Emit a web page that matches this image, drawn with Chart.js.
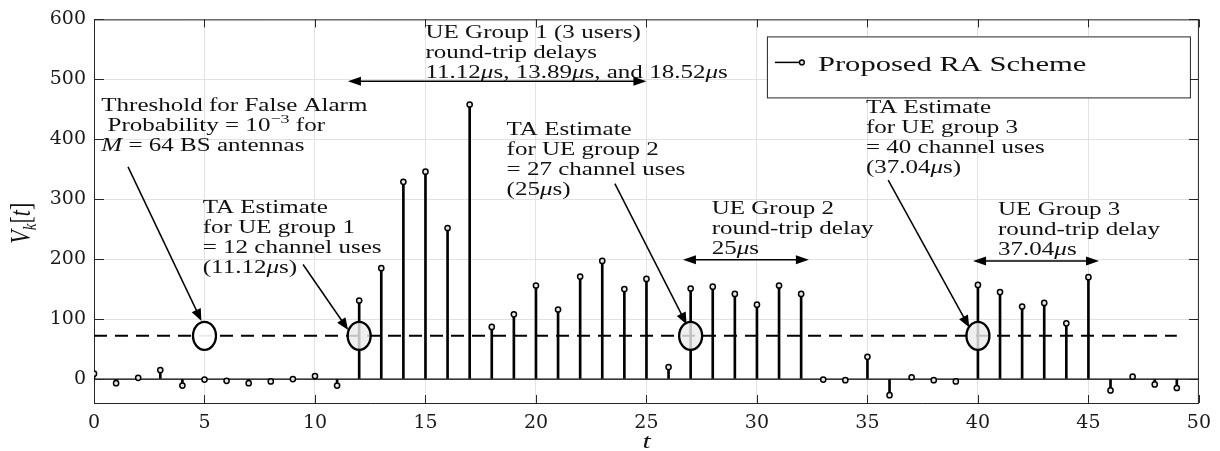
<!DOCTYPE html>
<html>
<head>
<meta charset="utf-8">
<script src="https://cdn.jsdelivr.net/npm/chart.js@4.4.1/dist/chart.umd.min.js"></script>
<style>
  html, body { margin: 0; padding: 0; background: #ffffff; }
  #wrap { width: 1220px; height: 451px; }
</style>
</head>
<body>
<div id="wrap"><canvas id="c" width="1220" height="451"></canvas></div>
<script>
// ---- data -------------------------------------------------------------
const timeIndex = [0, 1, 2, 3, 4, 5, 6, 7, 8, 9, 10, 11, 12, 13, 14, 15, 16, 17, 18, 19,
                   20, 21, 22, 23, 24, 25, 26, 27, 28, 29, 30, 31, 32, 33, 34, 35, 36, 37, 38, 39,
                   40, 41, 42, 43, 44, 45, 46, 47, 48, 49];
const vk = [9, -7, 2, 15, -11, -1, -3, -7, -4, 0, 5, -11,
            131, 185, 329, 346, 252, 458, 87, 108, 156, 116, 171, 197, 150, 167,
            20, 151, 154, 142, 124, 156, 142, -1, -2, 37, -27, 3, -2, -4,
            157, 145, 121, 127, 93, 170, -19, 4, -9, -15];
const thresholdLevel = 72;
const thresholdSpan = [0, 49];
const circledIndices = [5, 12, 27, 40];
const xTickLabels = ['0', '5', '10', '15', '20', '25', '30', '35', '40', '45', '50'];
const yTickLabels = ['0', '100', '200', '300', '400', '500', '600'];
const seriesName = 'Proposed RA Scheme';

// ---- annotations (anchored in data coordinates) ----------------------
// markup: *italic*, ^superscript^, _subscript_
const notes = [
  { t: 0.33, v: 448, lines: ['Threshold for False Alarm', ' Probability = 10^\u22123^ for', '*M* = 64 BS antennas'] },
  { t: 4.92, v: 277, lines: ['TA Estimate', 'for UE group 1', '= 12 channel uses', '(11.12*\u03bc*s)'] },
  { t: 15.0, v: 569, lines: ['UE Group 1 (3 users)', 'round-trip delays', '11.12*\u03bc*s, 13.89*\u03bc*s, and 18.52*\u03bc*s'] },
  { t: 18.67, v: 407, lines: ['TA Estimate', 'for UE group 2', '= 27 channel uses', '(25*\u03bc*s)'] },
  { t: 27.95, v: 276, lines: ['UE Group 2', 'round-trip delay', '25*\u03bc*s'] },
  { t: 34.93, v: 444, lines: ['TA Estimate', 'for UE group 3', '= 40 channel uses', '(37.04*\u03bc*s)'] },
  { t: 40.91, v: 273, lines: ['UE Group 3', 'round-trip delay', '37.04*\u03bc*s'] }
];
const pointers = [
  { from: [1.54, 354], to: [4.86, 97] },
  { from: [9.46, 191], to: [11.5, 82] },
  { from: [23.57, 326], to: [26.82, 91] },
  { from: [35.94, 332], to: [39.61, 86] }
];
const spans = [
  { v: 497, t0: 11.49, t1: 25.0 },
  { v: 199, t0: 26.65, t1: 32.35 },
  { v: 197, t0: 39.78, t1: 45.48 }
];

// ---- styling ----------------------------------------------------------
const SERIF = "'Liberation Serif', 'Times New Roman', serif";
const STRETCH = 1.39;          // wide-set lettering
const NOTE_SIZE = 18;
const LINE_GAP = 20;
const AXIS_INK = '#262626';

function parseRich(str) {
  const segs = [];
  let mode = 'n', buf = '';
  for (const ch of str) {
    if (ch === '*' || ch === '^' || ch === '_') {
      const m = ch === '*' ? 'i' : (ch === '^' ? 's' : 'b');
      if (buf) segs.push([buf, mode]);
      buf = '';
      mode = (mode === m) ? 'n' : m;
    } else buf += ch;
  }
  if (buf) segs.push([buf, mode]);
  return segs;
}
function fontFor(style, size) {
  if (style === 'i') return `italic ${size}px ${SERIF}`;
  if (style === 's') return `${Math.round(size * 0.7)}px ${SERIF}`;
  if (style === 'b') return `italic ${Math.round(size * 0.7)}px ${SERIF}`;
  return `${size}px ${SERIF}`;
}
function richWidth(ctx, str, size) {
  let w = 0;
  for (const [t, s] of parseRich(str)) { ctx.font = fontFor(s, size); w += ctx.measureText(t).width; }
  return w;
}
function drawRich(ctx, str, size, x0) {
  let x = x0 || 0;
  for (const [t, s] of parseRich(str)) {
    ctx.font = fontFor(s, size);
    const dy = s === 's' ? -size * 0.42 : (s === 'b' ? size * 0.22 : 0);
    ctx.fillText(t, x, dy);
    x += ctx.measureText(t).width;
  }
  return x;
}
function arrowHead(ctx, x0, y0, x1, y1, len, half) {
  const a = Math.atan2(y1 - y0, x1 - x0);
  ctx.beginPath();
  ctx.moveTo(x1, y1);
  ctx.lineTo(x1 - len * Math.cos(a) + half * Math.sin(a), y1 - len * Math.sin(a) - half * Math.cos(a));
  ctx.lineTo(x1 - len * Math.cos(a) - half * Math.sin(a), y1 - len * Math.sin(a) + half * Math.cos(a));
  ctx.closePath();
  ctx.fill();
}

const overlay = {
  id: 'overlay',
  afterDatasetsDraw(chart) {
    const { ctx, scales: { x, y }, chartArea: a } = chart;
    ctx.save();
    // circled crossings of the threshold
    circledIndices.forEach((t, k) => {
      const cx = x.getPixelForValue(t), cy = y.getPixelForValue(thresholdLevel);
      ctx.beginPath();
      ctx.ellipse(cx, cy, 11.5, 14, 0, 0, Math.PI * 2);
      ctx.fillStyle = k === 0 ? 'rgba(255,255,255,0.92)' : 'rgba(236,236,236,0.82)';
      ctx.fill();
      ctx.lineWidth = 2.3;
      ctx.strokeStyle = '#000';
      ctx.stroke();
    });
    // frame (top / right) and inward tick marks
    ctx.strokeStyle = AXIS_INK;
    ctx.lineWidth = 1;
    ctx.beginPath();
    ctx.moveTo(a.left, a.top + 0.5); ctx.lineTo(a.right, a.top + 0.5);
    ctx.moveTo(a.right - 0.5, a.top); ctx.lineTo(a.right - 0.5, a.bottom);
    x.ticks.forEach(tk => {
      const px = Math.round(x.getPixelForValue(tk.value)) + 0.5;
      ctx.moveTo(px, a.bottom); ctx.lineTo(px, a.bottom - 8);
      ctx.moveTo(px, a.top); ctx.lineTo(px, a.top + 8);
    });
    y.ticks.forEach(tk => {
      const py = Math.round(y.getPixelForValue(tk.value)) + 0.5;
      ctx.moveTo(a.left, py); ctx.lineTo(a.left + 10, py);
      ctx.moveTo(a.right, py); ctx.lineTo(a.right - 10, py);
    });
    ctx.stroke();
    ctx.restore();
  },
  afterDraw(chart) {
    const { ctx, scales: { x, y }, chartArea: a } = chart;
    ctx.save();
    ctx.fillStyle = '#000';
    ctx.strokeStyle = '#000';
    // pointer arrows
    ctx.lineWidth = 1.5;
    pointers.forEach(p => {
      const x0 = x.getPixelForValue(p.from[0]), y0 = y.getPixelForValue(p.from[1]);
      const x1 = x.getPixelForValue(p.to[0]), y1 = y.getPixelForValue(p.to[1]);
      const ang = Math.atan2(y1 - y0, x1 - x0);
      ctx.beginPath();
      ctx.moveTo(x0, y0);
      ctx.lineTo(x1 - 8 * Math.cos(ang), y1 - 8 * Math.sin(ang));
      ctx.stroke();
      arrowHead(ctx, x0, y0, x1, y1, 12, 5);
    });
    // double-headed delay spans
    spans.forEach(s => {
      const x0 = x.getPixelForValue(s.t0), x1 = x.getPixelForValue(s.t1), py = y.getPixelForValue(s.v);
      ctx.beginPath();
      ctx.moveTo(x0 + 8, py); ctx.lineTo(x1 - 8, py);
      ctx.stroke();
      arrowHead(ctx, x1, py, x0, py, 13, 4.5);
      arrowHead(ctx, x0, py, x1, py, 13, 4.5);
    });
    // text notes
    ctx.fillStyle = '#111';
    ctx.textBaseline = 'alphabetic';
    ctx.textAlign = 'left';
    notes.forEach(n => {
      const px = x.getPixelForValue(n.t), py = y.getPixelForValue(n.v);
      n.lines.forEach((ln, i) => {
        ctx.save();
        ctx.translate(px, py + i * LINE_GAP);
        ctx.scale(STRETCH, 1);
        drawRich(ctx, ln, NOTE_SIZE);
        ctx.restore();
      });
    });
    // legend box
    const bx = a.right - 432, by = a.top + 17, bw = 423, bh = 61;
    ctx.fillStyle = '#fff';
    ctx.fillRect(bx, by, bw, bh);
    ctx.strokeStyle = AXIS_INK;
    ctx.lineWidth = 1;
    ctx.strokeRect(bx + 0.5, by + 0.5, bw, bh);
    const ly = by + 26;
    ctx.strokeStyle = '#000';
    ctx.lineWidth = 1.5;
    ctx.beginPath(); ctx.moveTo(bx + 8, ly); ctx.lineTo(bx + 35, ly); ctx.stroke();
    ctx.beginPath(); ctx.arc(bx + 35, ly, 2.4, 0, Math.PI * 2);
    ctx.fillStyle = '#e6e6e6'; ctx.fill(); ctx.lineWidth = 1.4; ctx.stroke();
    ctx.fillStyle = '#111';
    ctx.save();
    ctx.translate(bx + 51, ly + 8.5);
    ctx.scale(STRETCH, 1);
    drawRich(ctx, chart.data.datasets[1].label, 22);
    ctx.restore();
    // axis titles
    ctx.save();
    const xt = '*t*';
    ctx.translate((a.left + a.right) / 2, 448);
    ctx.scale(STRETCH, 1);
    drawRich(ctx, xt, 21, -richWidth(ctx, xt, 21) / 2);
    ctx.restore();
    ctx.save();
    const yt = '*V*_k_[*t*]';
    ctx.translate(30, (a.top + a.bottom) / 2 + 12);
    ctx.rotate(-Math.PI / 2);
    ctx.scale(1, 1.3);
    drawRich(ctx, yt, 22, -richWidth(ctx, yt, 22) / 2);
    ctx.restore();
    ctx.restore();
  }
};

const stemPoints = timeIndex.map((t, i) => ({ x: t, y: vk[i] }));

new Chart(document.getElementById('c').getContext('2d'), {
  type: 'bar',
  data: {
    datasets: [
      { type: 'line', label: 'baseline', data: [{ x: 0, y: 0 }, { x: 50, y: 0 }],
        borderColor: '#000', borderWidth: 1.2, pointRadius: 0, order: 4 },
      { type: 'bar', label: seriesName, data: stemPoints,
        backgroundColor: '#000', barThickness: 2, order: 3 },
      { type: 'line', label: 'threshold',
        data: thresholdSpan.map(t => ({ x: t, y: thresholdLevel })),
        borderColor: '#000', borderWidth: 2, borderDash: [13, 8], pointRadius: 0, order: 2 },
      { type: 'scatter', label: 'stem heads', data: stemPoints, showLine: false,
        pointRadius: 2.6, pointBorderWidth: 1.5, pointBorderColor: '#000',
        pointBackgroundColor: '#e6e6e6', order: 1 }
    ]
  },
  options: {
    responsive: false,
    animation: false,
    devicePixelRatio: 1,
    layout: { padding: { left: 0, right: 21, top: 13, bottom: 0 } },
    plugins: { legend: { display: false }, tooltip: { enabled: false } },
    scales: {
      x: {
        type: 'linear', min: 0, max: 50, offset: false,
        grid: { color: '#e2e2e2', drawTicks: false, offset: false },
        border: { color: AXIS_INK, width: 1 },
        ticks: { autoSkip: false, maxRotation: 0, padding: 9, color: '#1a1a1a',
                 font: { family: "'DejaVu Serif', serif", size: 19 },
                 callback: (v, i) => xTickLabels[i] },
        afterBuildTicks: s => { s.ticks = xTickLabels.map(l => ({ value: Number(l) })); },
        afterFit: s => { s.height = 48; }
      },
      y: {
        type: 'linear', min: -40, max: 600,
        grid: { color: '#e2e2e2', drawTicks: false },
        border: { color: AXIS_INK, width: 1 },
        ticks: { padding: 8, color: '#1a1a1a',
                 font: { family: "'DejaVu Serif', serif", size: 19 },
                 callback: (v, i) => yTickLabels[i] },
        afterBuildTicks: s => { s.ticks = yTickLabels.map(l => ({ value: Number(l) })); },
        afterFit: s => { s.width = 94; }
      }
    }
  },
  plugins: [overlay]
});
</script>
</body>
</html>
